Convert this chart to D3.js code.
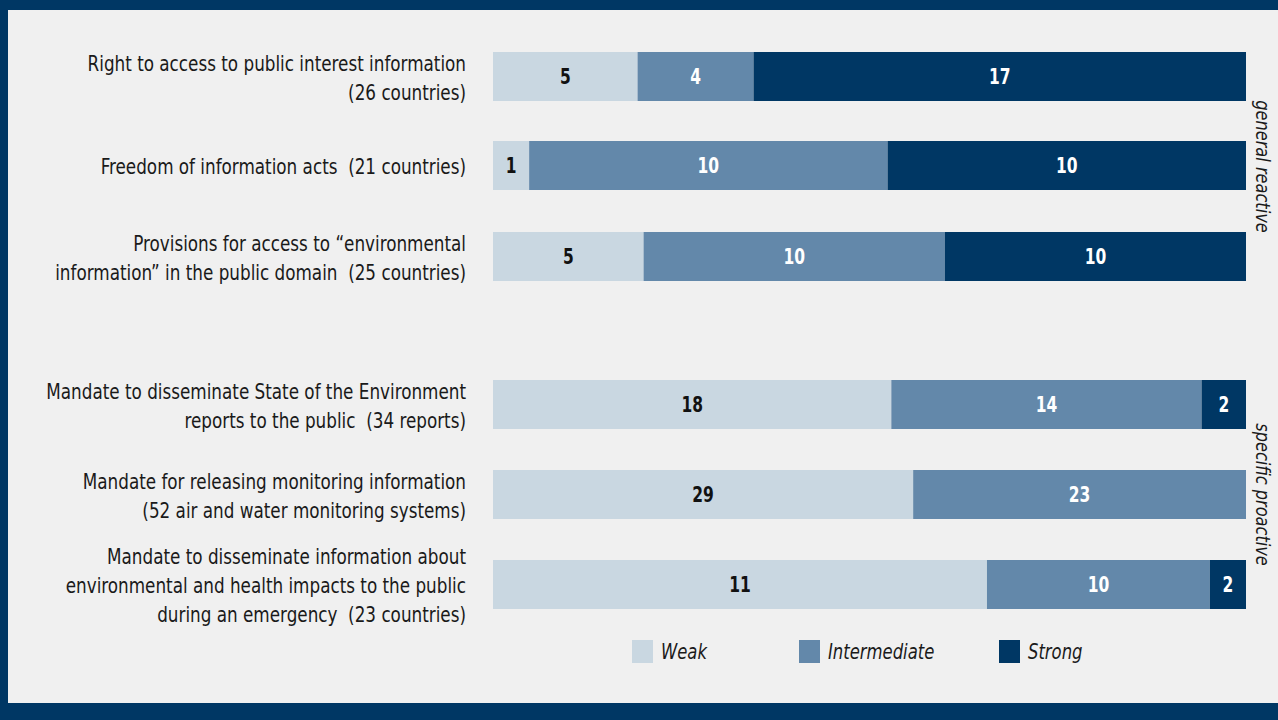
<!DOCTYPE html>
<html>
<head>
<meta charset="utf-8">
<script src="https://cdn.jsdelivr.net/npm/d3@7"></script>
<style>
  body { margin: 0; background: #f0f0f0; }
  svg text { font-family: "DejaVu Sans Condensed", "DejaVu Sans", sans-serif; white-space: pre; }
</style>
</head>
<body>
<div id="chart"></div>
<script>
// categories (each line of the label is one entry)
var categories = [
  ["Right to access to public interest information", "(26 countries)"],
  ["Freedom of information acts  (21 countries)"],
  ["Provisions for access to \u201cenvironmental", "information\u201d in the public domain  (25 countries)"],
  ["Mandate to disseminate State of the Environment", "reports to the public  (34 reports)"],
  ["Mandate for releasing monitoring information", "(52 air and water monitoring systems)"],
  ["Mandate to disseminate information about", "environmental and health impacts to the public", "during an emergency  (23 countries)"]
];
var groups = ["general reactive", "specific proactive"];

// counts printed in the segments
var weakCount = [5, 1, 5, 18, 29, 11];
var interCount = [4, 10, 10, 14, 23, 10];
var strongCount = [17, 10, 10, 2, 0, 2];

// share of each bar as drawn in the picture (%)
var weakShare = [19.2, 4.8, 20, 52.9, 55.8, 65.6];
var interShare = [15.4, 47.6, 40, 41.2, 44.2, 29.6];
var strongShare = [65.4, 47.6, 40, 5.9, 0, 4.8];

var seriesNames = ["Weak", "Intermediate", "Strong"];
var colors = ["#c9d7e1", "#6388aa", "#003764"];
var labelColors = ["#111", "#fff", "#fff"];

var svgWidth = 1278;
var svgHeight = 720;
var squeeze = 0.89; // the original face is narrower than DejaVu Condensed

var svg = d3.select("#chart")
  .append("svg")
  .attr("width", svgWidth)
  .attr("height", svgHeight);

// frame
svg.append("rect").attr("width", svgWidth).attr("height", svgHeight).attr("fill", "#003764");
svg.append("rect").attr("x", 8).attr("y", 10).attr("width", svgWidth - 8).attr("height", 693).attr("fill", "#f0f0f0");

var rows = categories.map(function(c, i) {
  return {
    label: c,
    shares: [weakShare[i], interShare[i], strongShare[i]],
    counts: [weakCount[i], interCount[i], strongCount[i]]
  };
});

var x = d3.scaleLinear().domain([0, 100]).range([493, 1246]);

// row positions (gap between the two groups)
var rowY = d3.scaleOrdinal()
  .domain(d3.range(6))
  .range([52, 141, 232, 380, 470, 560]);
var barH = 49;

var stack = d3.stack().keys([0, 1, 2]).value(function(d, k) { return d.shares[k]; });
var stacked = stack(rows);

var layers = svg.selectAll(".layer")
  .data(stacked)
  .enter()
  .append("g")
  .attr("class", "layer")
  .attr("fill", function(d, i) { return colors[i]; });

layers.selectAll("rect")
  .data(function(d) { return d; })
  .enter()
  .append("rect")
  .attr("x", function(d) { return x(d[0]); })
  .attr("y", function(d, i) { return rowY(i); })
  .attr("width", function(d) { return x(d[1]) - x(d[0]); })
  .attr("height", barH);

// numbers in the segments
stacked.forEach(function(layer, k) {
  svg.append("g").selectAll("text")
    .data(layer)
    .enter()
    .filter(function(d) { return d.data.counts[k] > 0; })
    .append("text")
    .attr("transform", function(d) {
      var cx = (x(d[0]) + x(d[1])) / 2;
      var cy = rowY(rows.indexOf(d.data)) + barH / 2;
      return "translate(" + cx + "," + cy + ") scale(0.82,1)";
    })
    .attr("dy", "0.36em")
    .attr("text-anchor", "middle")
    .attr("font-size", "21px")
    .attr("font-weight", "bold")
    .attr("fill", labelColors[k])
    .text(function(d) { return d.data.counts[k]; });
});

// category labels
var lineH = 29;
rows.forEach(function(r, i) {
  var n = r.label.length;
  var cy = rowY(i) + barH / 2 + 1;
  var t = svg.append("text")
    .attr("transform", "translate(466," + cy + ") scale(" + squeeze + ",1)")
    .attr("text-anchor", "end")
    .attr("font-size", "21px")
    .attr("fill", "#1a1a1a");
  r.label.forEach(function(line, j) {
    t.append("tspan")
      .attr("x", 0)
      .attr("y", (j - (n - 1) / 2) * lineH)
      .attr("dy", "0.36em")
      .text(line);
  });
});

// group labels on the right
var groupSpans = [[0, 2], [3, 5]];
groupSpans.forEach(function(g, i) {
  var mid = (rowY(g[0]) + rowY(g[1]) + barH) / 2;
  svg.append("text")
    .attr("transform", "translate(1256," + mid + ") rotate(90) scale(0.9,1)")
    .attr("text-anchor", "middle")
    .attr("font-size", "20px")
    .attr("font-style", "italic")
    .attr("fill", "#1a1a1a")
    .text(groups[i]);
});

// legend
var legendX = [632, 799, 999];
var legend = svg.append("g").selectAll("g")
  .data(seriesNames)
  .enter()
  .append("g")
  .attr("transform", function(d, i) { return "translate(" + legendX[i] + ",640)"; });

legend.append("rect")
  .attr("width", 21)
  .attr("height", 23)
  .attr("fill", function(d, i) { return colors[i]; });

legend.append("text")
  .attr("transform", "translate(29,11.5) scale(0.87,1)")
  .attr("dy", "0.36em")
  .attr("font-size", "21px")
  .attr("font-style", "italic")
  .attr("fill", "#1a1a1a")
  .text(function(d) { return d; });
</script>
</body>
</html>
